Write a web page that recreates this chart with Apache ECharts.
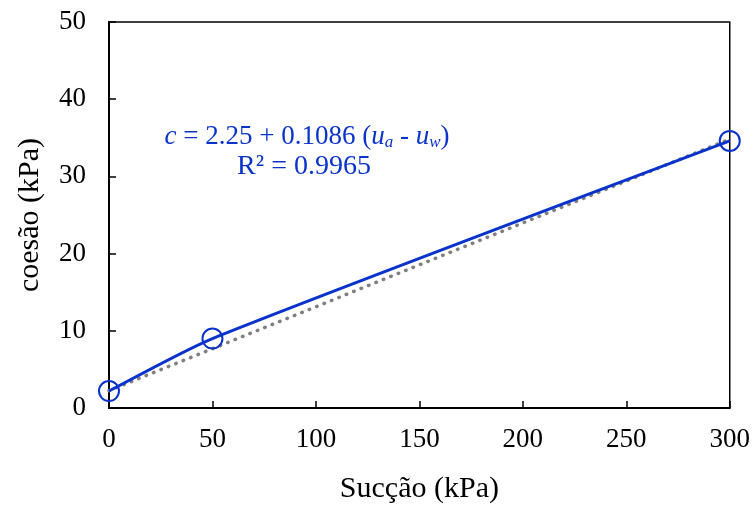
<!DOCTYPE html>
<html>
<head>
<meta charset="utf-8">
<script src="https://cdn.jsdelivr.net/npm/echarts@6/dist/echarts.min.js"></script>
<style>html,body{margin:0;padding:0;background:#fff}#c{width:753px;height:509px}</style>
</head>
<body>
<div id="c"></div>
<script>
// Data
const suction = [0, 50, 300];            // kPa
const cohesion = [2.2, 9.0, 34.6];       // kPa
const trendX = [0, 300];
const trendY = [2.25, 34.83];            // c = 2.25 + 0.1086 (ua - uw)
const xTicks = [0, 50, 100, 150, 200, 250, 300];
const yTicks = [0, 10, 20, 30, 40, 50];

const FONT = '"Liberation Serif", "Times New Roman", serif';
const BLUE = '#0a33cc';
const chart = echarts.init(document.getElementById('c'));
const pts = suction.map((x, i) => [x, cohesion[i]]);
const trend = trendX.map((x, i) => [x, trendY[i]]);

chart.setOption({
  animation: false,
  grid: { left: 109, top: 22, right: 22, bottom: 95, show: true, borderColor: '#000', borderWidth: 1.5, backgroundColor: 'transparent' },
  xAxis: {
    type: 'value', min: xTicks[0], max: xTicks[xTicks.length - 1], interval: 50,
    name: 'Sucção (kPa)', nameLocation: 'middle', nameGap: 66,
    nameTextStyle: { fontFamily: FONT, fontSize: 30, color: '#000' },
    axisLine: { show: true, lineStyle: { color: '#000', width: 2 } },
    axisTick: { show: true, inside: true, length: 7, lineStyle: { color: '#000', width: 1.5 } },
    axisLabel: { fontFamily: FONT, fontSize: 27, color: '#000', margin: 18 },
    splitLine: { show: false }
  },
  yAxis: {
    type: 'value', min: yTicks[0], max: yTicks[yTicks.length - 1], interval: 10,
    name: 'coesão (kPa)', nameLocation: 'middle', nameGap: 64, nameRotate: 90,
    nameTextStyle: { fontFamily: FONT, fontSize: 30, color: '#000' },
    axisLine: { show: true, lineStyle: { color: '#000', width: 2 } },
    axisTick: { show: true, inside: true, length: 7, lineStyle: { color: '#000', width: 1.5 } },
    axisLabel: { fontFamily: FONT, fontSize: 27, color: '#000', margin: 23 },
    splitLine: { show: false }
  },
  series: [
    {
      type: 'line', data: trend, symbol: 'none', z: 2,
      lineStyle: { color: '#7f7f7f', width: 3.5, type: [0.5, 7.5], cap: 'round' }
    },
    {
      type: 'line', data: pts, smooth: 0.2, z: 3,
      symbol: 'circle', symbolSize: 20,
      itemStyle: { color: 'transparent', borderColor: BLUE, borderWidth: 2 },
      lineStyle: { color: BLUE, width: 3 }
    }
  ],
  graphic: [
    {
      type: 'text', z: 10,
      style: {
        x: 307, y: 137, align: 'center', verticalAlign: 'middle',
        text: '{i|c} = 2.25 + 0.1086 ({i|u}{s|a} - {i|u}{s|w})',
        fontFamily: FONT, fontSize: 27, fill: BLUE,
        rich: {
          i: { fontFamily: FONT, fontSize: 27, fontStyle: 'italic', fill: BLUE },
          s: { fontFamily: FONT, fontSize: 17, fontStyle: 'italic', fill: BLUE, verticalAlign: 'bottom', padding: [11, 0, 0, 0] }
        }
      }
    },
    {
      type: 'text', z: 10,
      style: {
        x: 304, y: 167, align: 'center', verticalAlign: 'middle',
        text: 'R² = 0.9965', fontFamily: FONT, fontSize: 28, fill: BLUE
      }
    }
  ]
});
</script>
</body>
</html>
